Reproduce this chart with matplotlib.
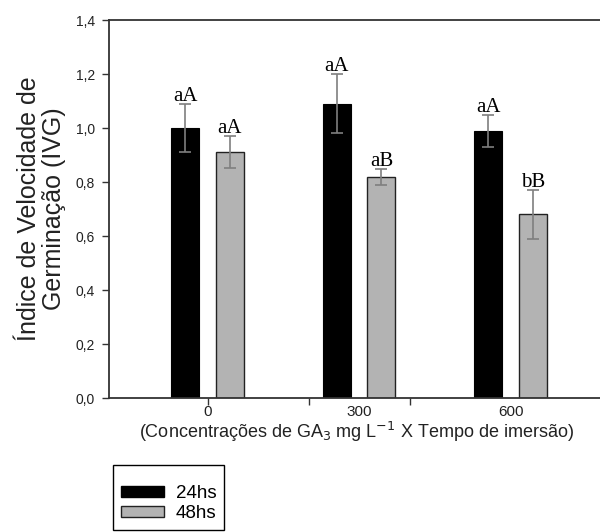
import matplotlib
matplotlib.use("Agg")
import matplotlib.pyplot as plt
import numpy as np
from matplotlib.patches import Patch

categories = ["0", "300", "600"]
series_names = ["24hs", "48hs"]
values_24 = [1.00, 1.09, 0.99]
errors_24 = [0.09, 0.11, 0.06]
values_48 = [0.91, 0.82, 0.68]
errors_48 = [0.06, 0.03, 0.09]
letters_24 = ["aA", "aA", "aA"]
letters_48 = ["aA", "aB", "bB"]
yticks = [0.0, 0.2, 0.4, 0.6, 0.8, 1.0, 1.2, 1.4]

plt.rcParams['font.family'] = ['Liberation Sans', 'DejaVu Sans']

fig = plt.figure(figsize=(6.0, 5.32), dpi=100)
ax = fig.add_axes([109/600, 1-398/532, 1.0-109/600, (398-20)/532])

x = np.arange(len(categories))
off = 0.148
w = 0.185
ax.bar(x - off, values_24, w, color='black', edgecolor='black', linewidth=0.8, zorder=2)
ax.bar(x + off, values_48, w, color='#b3b3b3', edgecolor='#222222', linewidth=1.0, zorder=2)
ax.errorbar(x - off, values_24, yerr=errors_24, fmt='none', ecolor='#7f7f7f', elinewidth=1.2, capsize=4, capthick=1.2, zorder=3)
ax.errorbar(x + off, values_48, yerr=errors_48, fmt='none', ecolor='#7f7f7f', elinewidth=1.2, capsize=4, capthick=1.2, zorder=3)

for i in range(len(categories)):
    ax.text(x[i] - off, values_24[i] + errors_24[i] - 0.008, letters_24[i], ha='center', va='bottom',
            family='Liberation Serif', fontsize=15)
    ax.text(x[i] + off, values_48[i] + errors_48[i] - 0.008, letters_48[i], ha='center', va='bottom',
            family='Liberation Serif', fontsize=15)

ax.set_xlim(-0.65, 2.59)
ax.set_ylim(0, 1.4)
ax.set_yticks(yticks)
ax.set_yticklabels([f"{v:.1f}".replace('.', ',') for v in yticks], fontsize=10, color='#222222')

# major ticks (unlabelled marks) and labels at group centres
ax.xaxis.remove_overlapping_locs = False
ax.set_xticks([0, 2/3, 4/3])
ax.set_xticklabels(['', '', ''])
ax.set_xticks(x, minor=True)
ax.set_xticklabels(categories, minor=True, fontsize=11, color='#222222')
ax.tick_params(axis='x', which='minor', length=0, pad=5)
ax.tick_params(axis='x', which='major', length=5, width=1, color='#333333', direction='out')
ax.tick_params(axis='y', length=5, width=1, color='#333333', direction='out', pad=5)

for s in ['left', 'bottom', 'top']:
    ax.spines[s].set_linewidth(1.3)
    ax.spines[s].set_color('#333333')
ax.spines['right'].set_visible(False)

ax.set_ylabel("Índice de Velocidade de\nGerminação (IVG)", fontsize=18, linespacing=1.05, color='#222222')
ax.yaxis.set_label_coords(-(109-66)/(600-109), 0.5)
ax.set_xlabel("(Concentrações de GA$_3$ mg L$^{-1}$ X Tempo de imersão)", fontsize=13, color='#222222')
ax.xaxis.set_label_coords((357-109)/(600-109), -22/378)

handles = [Patch(facecolor='black', edgecolor='black'),
           Patch(facecolor='#b3b3b3', edgecolor='#222222')]
leg = fig.legend(handles, series_names, loc='upper left', bbox_to_anchor=(113/600, 1-465/532),
                 fontsize=13.5, frameon=True, fancybox=False, edgecolor='black', framealpha=1,
                 handlelength=2.3, handleheight=0.5, labelspacing=0.15, borderpad=0.4,
                 handletextpad=0.65, borderaxespad=0, title=' ', title_fontsize=7)
leg.get_frame().set_linewidth(1.0)

fig.savefig("out.png", dpi=100)
